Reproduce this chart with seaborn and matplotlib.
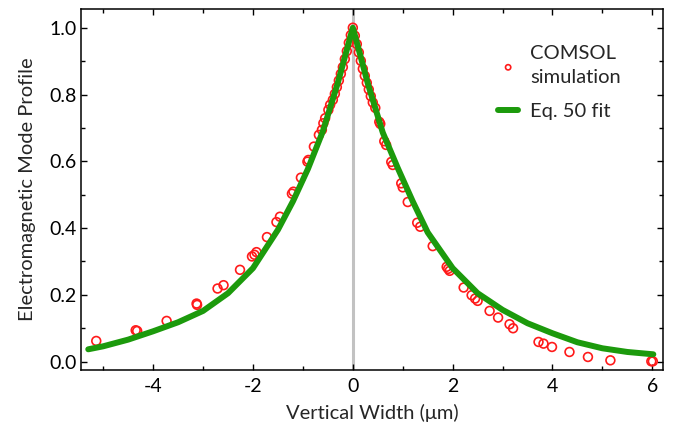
import matplotlib
matplotlib.use("Agg")
import matplotlib.pyplot as plt
import seaborn as sns
import numpy as np
import pandas as pd
from matplotlib.ticker import MultipleLocator

sns.set_style("ticks")
plt.rcParams["font.family"] = ["Lato", "DejaVu Sans"]

# ---------- dados ----------
# simulação COMSOL (pontos)
sim_x = [-5.14, -4.35, -4.32, -3.73, -3.13, -3.12, -2.71, -2.59, -2.26, -2.02,
         -1.97, -1.93, -1.72, -1.53, -1.46, -1.22, -1.19, -1.04, -0.91, -0.89,
         -0.78, -0.68, -0.62, -0.59, -0.555, -0.49, -0.455, -0.40, -0.36, -0.32,
         -0.28, -0.24, -0.20, -0.16, -0.12, -0.08, -0.04, 0.0, 0.04, 0.08,
         0.12, 0.16, 0.20, 0.24, 0.28, 0.32, 0.36, 0.40, 0.45, 0.53,
         0.55, 0.63, 0.667, 0.77, 0.80, 0.97, 1.0, 1.10, 1.29, 1.35,
         1.60, 1.88, 1.91, 1.94, 2.22, 2.38, 2.45, 2.50, 2.74, 2.91,
         3.14, 3.21, 3.72, 3.82, 3.99, 4.34, 4.71, 5.16, 5.98, 6.01]
sim_y = [0.062, 0.094, 0.092, 0.122, 0.174, 0.170, 0.219, 0.229, 0.275, 0.315,
         0.320, 0.328, 0.373, 0.418, 0.434, 0.503, 0.509, 0.551, 0.599, 0.604,
         0.644, 0.679, 0.694, 0.714, 0.729, 0.754, 0.769, 0.784, 0.802, 0.822,
         0.842, 0.862, 0.882, 0.906, 0.930, 0.955, 0.978, 1.0, 0.976, 0.951,
         0.926, 0.901, 0.877, 0.856, 0.835, 0.815, 0.795, 0.776, 0.760, 0.718,
         0.712, 0.660, 0.649, 0.598, 0.589, 0.534, 0.522, 0.478, 0.416, 0.404,
         0.346, 0.284, 0.278, 0.272, 0.222, 0.199, 0.189, 0.182, 0.152, 0.132,
         0.112, 0.100, 0.059, 0.054, 0.044, 0.029, 0.014, 0.004, 0.001, 0.001]

# ajuste da Eq. 50 (curva)
fit_x = [-5.30, -5.00, -4.50, -4.00, -3.50, -3.00, -2.50, -2.00, -1.50, -1.20,
         -0.90, -0.60, -0.30, -0.10, 0.00, 0.10, 0.30, 0.60, 0.90, 1.20,
         1.50, 2.00, 2.50, 3.00, 3.50, 4.00, 4.50, 5.00, 5.50, 6.02]
fit_y = [0.037, 0.046, 0.066, 0.091, 0.118, 0.152, 0.205, 0.280, 0.395, 0.480,
         0.577, 0.690, 0.835, 0.945, 1.000, 0.945, 0.833, 0.686, 0.580, 0.480,
         0.387, 0.280, 0.205, 0.155, 0.115, 0.085, 0.058, 0.040, 0.029, 0.022]

df_sim = pd.DataFrame({"x": sim_x, "y": sim_y})
df_fit = pd.DataFrame({"x": fit_x, "y": fit_y})

fig = plt.figure(figsize=(6.82, 4.25), dpi=100)
ax = fig.add_axes([0.1188, 0.1294, 0.8538, 0.8486])

ax.axvline(0, color="#c2c2c2", linewidth=2.2, zorder=0)

sns.scatterplot(data=df_sim, x="x", y="y", ax=ax, marker="o", s=40,
                facecolors="none", edgecolor="#ff1a1a", linewidth=1.2,
                zorder=2, label="COMSOL\nsimulation")
sns.lineplot(data=df_fit, x="x", y="y", ax=ax, color="#1c9a0c",
             linewidth=4.3, zorder=3, sort=False, label="Eq. 50 fit")

ax.set_xlim(-5.445, 6.22)
ax.set_ylim(-0.025, 1.055)

ax.xaxis.set_major_locator(MultipleLocator(2))
ax.xaxis.set_minor_locator(MultipleLocator(1))
ax.yaxis.set_major_locator(MultipleLocator(0.2))
ax.yaxis.set_minor_locator(MultipleLocator(0.1))
ax.tick_params(which="both", direction="in", top=True, right=True,
               width=1.0, labelsize=14, colors="black")
ax.tick_params(which="major", length=4.5)
ax.tick_params(which="minor", length=3)
ax.tick_params(axis="x", pad=6)
ax.tick_params(axis="y", pad=3)
ax.set_yticklabels([f"{v:.1f}" for v in ax.get_yticks()])
ax.set_xticklabels([f"{int(v)}" for v in ax.get_xticks()])

for s in ax.spines.values():
    s.set_linewidth(1.1)
    s.set_color("black")

ax.set_xlabel("Vertical Width (μm)", fontsize=14.5, labelpad=6)
ax.set_ylabel("Electromagnetic Mode Profile", fontsize=14.5, labelpad=10)

leg = ax.legend(loc="upper left", bbox_to_anchor=(0.692, 0.94), frameon=False,
                fontsize=14.5, handlelength=1.0, markerscale=0.6,
                labelspacing=0.85, handletextpad=0.6, borderpad=0.2)
for t in leg.get_texts():
    t.set_linespacing(1.5)

plt.savefig("out.png", dpi=100)
